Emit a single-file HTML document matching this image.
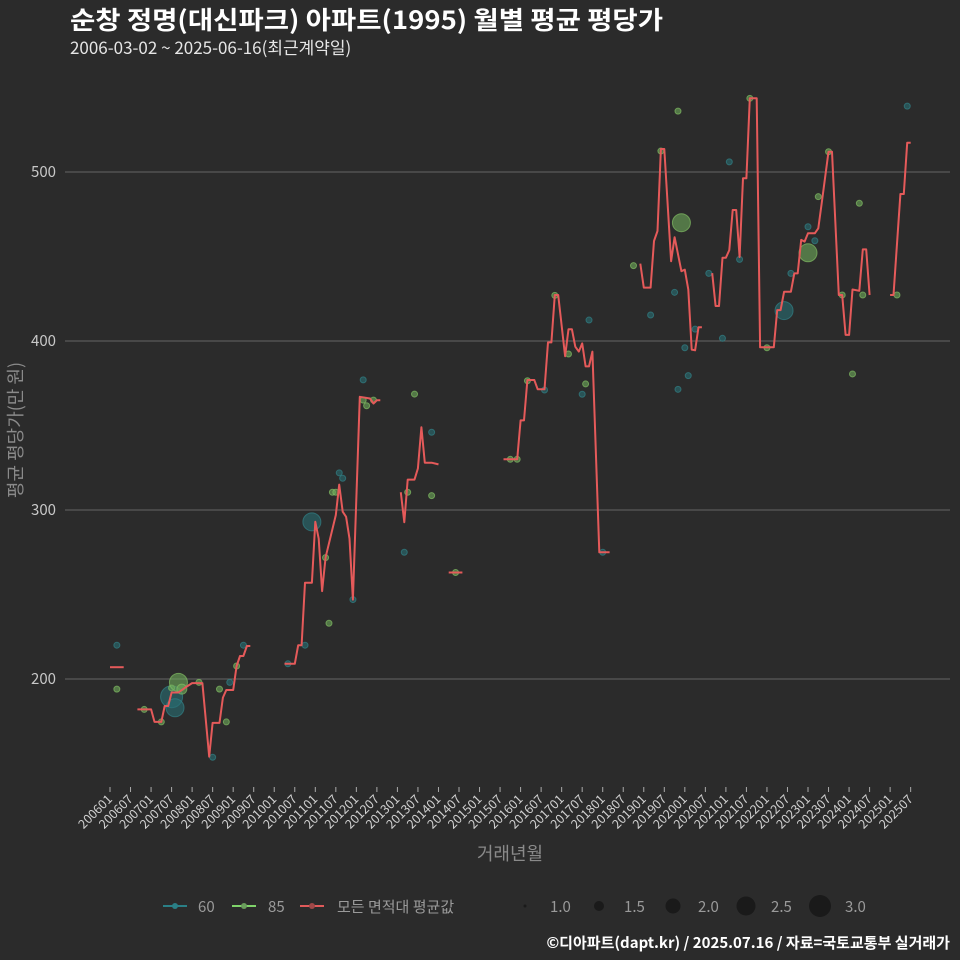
<!DOCTYPE html>
<html><head><meta charset="utf-8"><style>
html,body{margin:0;padding:0;background:#2b2b2b;}
svg{display:block;font-family:"Noto Sans CJK KR","Liberation Sans",sans-serif;}
</style></head><body>
<svg id="chart" width="960" height="960" viewBox="0 0 960 960" xmlns="http://www.w3.org/2000/svg">
<rect x="0" y="0" width="960" height="960" fill="#2b2b2b"/>
<text x="70" y="29" font-size="25" font-weight="bold" fill="#ffffff" textLength="593" lengthAdjust="spacingAndGlyphs">순창 정명(대신파크) 아파트(1995) 월별 평균 평당가</text>
<text x="70" y="54" font-size="17" fill="#e6e6e6">2006-03-02 ~ 2025-06-16(최근계약일)</text>
<g id="grid"></g>
<g id="yticks"></g>
<g id="xticks"></g>
<g id="points"></g>
<g id="lines"></g>
<text transform="translate(22,430) rotate(-90)" text-anchor="middle" font-size="18" fill="#8a8a8a">평균 평당가(만 원)</text>
<text x="510" y="860" text-anchor="middle" font-size="18" fill="#8a8a8a">거래년월</text>
<g font-size="15" fill="#9a9a9a">
 <g><line x1="163" y1="906" x2="187" y2="906" stroke="#2a7f86" stroke-width="2"/><circle cx="175" cy="906" r="3" fill="#2a7f86"/><text x="198" y="912">60</text></g>
 <g><line x1="232" y1="906" x2="256" y2="906" stroke="#7fd36a" stroke-width="2"/><circle cx="244" cy="906" r="3" fill="#6a9e5c"/><text x="268" y="912">85</text></g>
 <g><line x1="300" y1="906" x2="324" y2="906" stroke="#e05a5a" stroke-width="2"/><circle cx="312" cy="906" r="3" fill="#a04848"/><text x="337" y="912">모든 면적대 평균값</text></g>
 <g><circle cx="525" cy="906" r="1.5" fill="#1a1a1a"/><text x="550" y="912">1.0</text></g>
 <g><circle cx="599" cy="906" r="5" fill="#1a1a1a"/><text x="624" y="912">1.5</text></g>
 <g><circle cx="673" cy="906" r="7.5" fill="#1a1a1a"/><text x="698" y="912">2.0</text></g>
 <g><circle cx="746" cy="906" r="9.5" fill="#1a1a1a"/><text x="771" y="912">2.5</text></g>
 <g><circle cx="820" cy="906" r="11" fill="#1a1a1a"/><text x="845" y="912">3.0</text></g>
</g>
<text x="950" y="948" text-anchor="end" font-size="15" font-weight="bold" fill="#ffffff">©디아파트(dapt.kr) / 2025.07.16 / 자료=국토교통부 실거래가</text>
</svg>
<script>
const yTicks=[200,300,400,500];
const xTickLabels=[];for(let y=2006;y<=2025;y++){xTickLabels.push(y+"01");xTickLabels.push(y+"07");}
const lineMonths=["200601","200605",null,"200609","200701","200702","200704","200705","200706","200707","200709","200711","200801","200804","200806","200807","200809","200810","200811","200901","200902","200903","200904","200905","200906",null,
"201004","201007","201008","201009","201010","201012","201101","201102","201103","201104","201107","201108","201109","201110","201111","201112","201202","201205","201206","201207","201208",null,
"201302","201303","201304","201306","201307","201308","201309","201311","201401",null,"201404","201408",null,
"201508","201512","201601","201602","201603","201605","201606","201608","201609","201610","201611","201612","201702","201703","201704","201705","201706","201707","201708","201709","201710","201712","201803",null,
"201812","201901","201903","201904","201905","201906","201907","201909","201910","201912","202001","202002","202003","202004","202005","202006",null,
"202009","202010","202011","202012","202101","202102","202103","202104","202105","202106","202107","202108","202110","202111","202203","202204","202205","202206","202208","202209","202210","202211","202212","202301","202303","202304","202305","202307","202308","202310","202311","202312","202401","202402","202404","202405","202406","202407",null,
"202501","202502","202504","202505","202506","202507"];
const lineValues=[207,207,null,182,182,174.6,174.6,184,184,192,192,195,197.6,197.6,154,174,174,189,193.5,193.5,207.7,213.6,213.6,219.5,219.5,null,
209,209,220,220,257,257,293,283,252,272,297,315,299,296,283,247,367,366,363,365,365,null,
310.5,292.8,318,318,324.6,349,328,328,327,null,263,263,null,
330,330,353,353,376.9,376.9,371.4,371.4,399.2,399.2,427.2,427.2,391,407,407,396.6,393.7,398.6,385,385,393.7,275,275,null,
445.8,431.6,431.6,459.2,465.1,513.6,513.6,447.2,461.4,441.3,442.2,430.4,394.9,394.5,408.1,408.1,null,
440.2,420.7,420.7,449.3,449.3,453.8,477.5,477.5,449.7,496.3,496.3,543.6,543.6,396.3,396.3,418.3,418.3,429.2,429.2,440,440,459.8,458.8,463.7,463.7,466.7,481.5,512,512,427.2,427.2,403.6,403.6,430.5,429.7,454.2,454.2,427.2,null,
427.2,427.2,487,487,517.3,517.3];
const p60Months=["200603","200707","200708","200807","200812","200904","201005","201010","201112","201012","201108","201109","201203","201303","201311","201608","201707","201709","201801","201903","201910","201911","202001","202002","202004","202008","202012","202102","202105","202206","202208","202301","202303","202506"];
const p60Values=[220,189.5,183,153.7,198,220,209,220,247,293,322,318.8,377,275,346,371,368.5,412.4,275,415.4,428.8,371.4,396,379.5,407,440,401.6,506,448.3,418,440,467.6,459.3,539];
const p60Sizes=[1,3,2.5,1,1,1,1,1,1,2.5,1,1,1,1,1,1,1,1,1,1,1,1,1,1,1,1,1,1,1,2.5,1,1,1,1];
const p85Months=["200603","200611","200704","200707","200709","200710","200803","200809","200811","200902","201105","201104","201106","201107","201203","201204","201206","201304","201306","201311","201406","201510","201512","201603","201611","201703","201708","201810","201906","201911","201912","202108","202201","202301","202304","202307","202311","202402","202404","202405","202503"];
const p85Values=[194,182,174.6,194.7,198,194,198,194,174.6,207.7,233,271.8,310.5,310.5,365,361.7,365,310.5,368.6,308.5,263,330,330,376.5,427,392.3,374.6,444.6,512.4,536,470,543.6,396,452.2,485.4,512,427.2,380.5,481.5,427.2,427.2];
const p85Sizes=[1,1,1,1,2.5,1.5,1,1,1,1,1,1,1,1,1,1,1,1,1,1,1,1,1,1,1,1,1,1,1,1,2.5,1,1,2.5,1,1,1,1,1,1,1];

const NS="http://www.w3.org/2000/svg";
function mIdx(s){return (parseInt(s.slice(0,4))-2006)*12+(parseInt(s.slice(4,6))-1);}
function xScale(s){return 110+mIdx(s)*3.4216;}
function yScale(v){return 679-(v-200)*1.69;}
function rScale(s){return 3+(s-1)*4;}
function mk(tag,attrs,parent){const e=document.createElementNS(NS,tag);for(const k in attrs)e.setAttribute(k,attrs[k]);parent.appendChild(e);return e;}

const grid=document.getElementById('grid'),yt=document.getElementById('yticks'),xt=document.getElementById('xticks');
yTicks.forEach(v=>{
 const l=mk('line',{x1:65,x2:950,y1:yScale(v),y2:yScale(v),stroke:'#666666','stroke-width':1},grid);
 
 
 const t=mk('text',{x:56,y:yScale(v)+5,'text-anchor':'end','font-size':15,fill:'#c8c8c8'},yt);
 t.textContent=v;
 
 
});
xTickLabels.forEach(s=>{
 const x=xScale(s);
 const tk=mk('line',{x1:x,x2:x,y1:787,y2:792,stroke:'#aaaaaa','stroke-width':1},xt);
 
 
 const t=mk('text',{x:x+3,y:800,'text-anchor':'end','font-size':12.5,fill:'#d0d0d0',transform:`rotate(-45 ${x+3} 800)`},xt);
 t.textContent=s;
 
 
});
const pts=document.getElementById('points');
function drawPts(months,vals,sizes,fill,stroke,name){
 months.forEach((m,i)=>{
  const c=mk('circle',{cx:xScale(m),cy:yScale(vals[i]),r:rScale(sizes[i]),fill:fill,stroke:stroke,'stroke-width':1},pts);
  
  
 });
}
drawPts(p60Months,p60Values,p60Sizes,'rgba(40,110,115,0.6)','rgba(50,130,135,0.7)','point-60');
drawPts(p85Months,p85Values,p85Sizes,'rgba(110,170,90,0.6)','rgba(130,190,100,0.7)','point-85');
const lg=document.getElementById('lines');
let seg=[];
function flush(){
 if(seg.length){
  const p=mk('polyline',{points:seg.join(' '),fill:'none',stroke:'#e55a5a','stroke-width':2,'stroke-linejoin':'round'},lg);
  
  
 }
 seg=[];
}
lineMonths.forEach((m,i)=>{
 if(m===null){flush();return;}
 seg.push(xScale(m).toFixed(1)+','+yScale(lineValues[i]).toFixed(1));
});
flush();
</script>
</body></html>
